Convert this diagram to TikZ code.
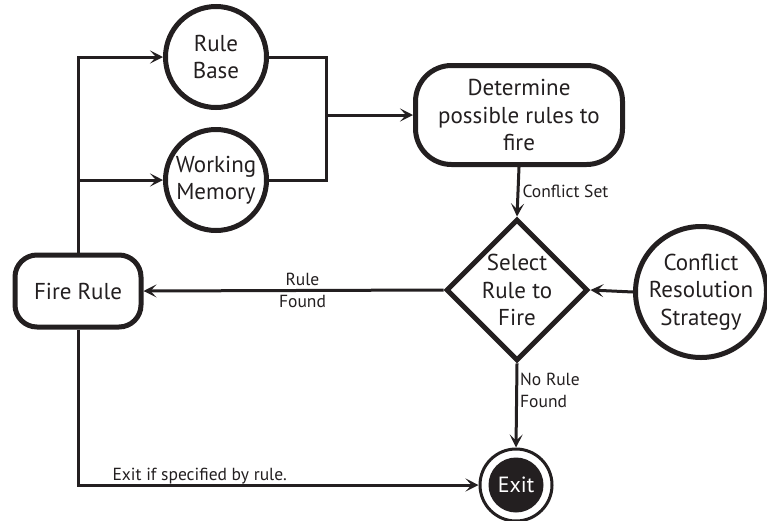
\documentclass[tikz,border=0pt]{standalone}
\usepackage{fontspec}
\setmainfont{PT Sans}
\usetikzlibrary{arrows.meta,shapes.geometric}
\definecolor{ink}{HTML}{231F20}
\tikzset{
  shp/.style={draw=ink, line width=5pt, text=ink, align=center, inner sep=0pt,
    font=\fontsize{23}{27.5}\selectfont},
  circ/.style={shp, circle},
  rbox/.style={shp, rectangle, rounded corners=30pt},
  conn/.style={draw=ink, line width=3pt},
  arr/.style={conn, -{Stealth[length=13pt,width=13pt,inset=6pt]}},
  lbl/.style={text=ink, font=\fontsize{17.5}{22.5}\selectfont, inner sep=1pt}
}
\begin{document}
\begin{tikzpicture}[x=1pt,y=-1pt]
\useasboundingbox (0,0) rectangle (767,520);
\node[circ, minimum size=101pt] (rb) at (216,57) {Rule\\Base};
\node[circ, minimum size=101pt] (wm) at (216,180) {Working\\Memory};
\node[rbox, minimum width=207pt, minimum height=99pt, rounded corners=36pt] (det) at (519,115) {Determine\\possible rules to\\fire};
\node[shp, diamond, minimum width=134pt, minimum height=134pt, aspect=1] (sel) at (517,290) {Select\\Rule to\\Fire};
\node[circ, minimum size=131pt] (crs) at (701,292) {Conflict\\Resolution\\Strategy};
\node[rbox, minimum width=126pt, minimum height=72pt, rounded corners=22pt] (fire) at (78,291) {Fire Rule};
\node[circle, draw=ink, line width=3pt, fill=white, minimum size=72pt, inner sep=0pt] (exit) at (516,485) {};
\node[circle, fill=ink, minimum size=55pt, inner sep=0pt, text=white, font=\fontsize{22}{26}\selectfont] (exitin) at (exit.center) {Exit};
\coordinate (m) at (326,115);
% connectors
\draw[arr] (fire.north) |- (rb.west);
\draw[arr] (fire.north |- wm.west) -- (wm.west);
\draw[conn] (rb.east) -| (m);
\draw[conn] (wm.east) -| (m);
\draw[arr] (m) -- (det.west);
\draw[arr] (det.south) -- node[lbl, right, xshift=2pt] {Conflict Set} (sel.north);
\draw[arr] (crs.west) -- (sel.east);
\draw[arr] (sel.west) -- node[lbl, align=center, pos=0.47] {Rule\\Found} (fire.east);
\draw[arr] (sel.south) -- node[lbl, right, align=left, xshift=1pt, pos=0.32] {No Rule\\Found} (exit.north);
\draw[arr] (fire.south) |- node[lbl, pos=0.652, above, yshift=-2pt] {Exit if specified by rule.} (exit.west);
\end{tikzpicture}
\end{document}
